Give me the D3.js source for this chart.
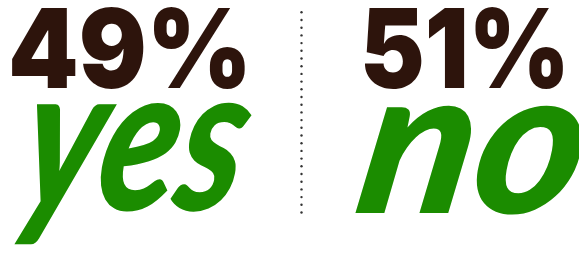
<!DOCTYPE html>
<html>
<head>
<meta charset="utf-8">
<script src="https://cdn.jsdelivr.net/npm/d3@7"></script>
<style>
  html, body { margin: 0; padding: 0; background: #fff; }
  svg { display: block; }
</style>
</head>
<body>
<div id="chart"></div>
<script>
const categories = ["yes", "no"];
const values = [49, 51];
const valueLabels = ["49%", "51%"];

const W = 579, H = 260;
const brown = "#2d140c", green = "#1b8c00";

const svg = d3.select("#chart").append("svg")
  .attr("width", W).attr("height", H);

const x = d3.scalePoint().domain(categories).range([130, 465]);

// layout per column (left edges / widths measured in the reference)
const numBox = { yes: [8, 244], no: [360, 210] };
const wordBox = { yes: [14, 222, 210], no: [352, 224, 213] };

const g = svg.selectAll("g.col").data(categories).enter().append("g").attr("class", "col");

g.append("text")
  .attr("x", d => numBox[d][0])
  .attr("y", 88)
  .attr("textLength", d => numBox[d][1])
  .attr("lengthAdjust", "spacingAndGlyphs")
  .style("font-family", "Inter, Lato, sans-serif")
  .style("font-weight", 900)
  .style("font-size", "110px")
  .style("fill", brown)
  .text((d, i) => valueLabels[i]);

g.append("text")
  .attr("transform", d => `translate(${wordBox[d][0]},${wordBox[d][2]}) skewX(-10)`)
  .attr("x", 0)
  .attr("y", 0)
  .attr("textLength", d => wordBox[d][1])
  .attr("lengthAdjust", "spacingAndGlyphs")
  .style("font-family", "Lato, sans-serif")
  .style("font-weight", 900)
  .style("font-style", "italic")
  .style("font-size", "205px")
  .style("fill", green)
  .text(d => d);

// dotted divider
const divX = 301.5;
svg.append("g").selectAll("circle")
  .data(d3.range(27))
  .enter().append("circle")
  .attr("cx", divX)
  .attr("cy", i => 12.3 + i * 7.7)
  .attr("r", 1.2)
  .style("fill", "#333");
</script>
</body>
</html>
